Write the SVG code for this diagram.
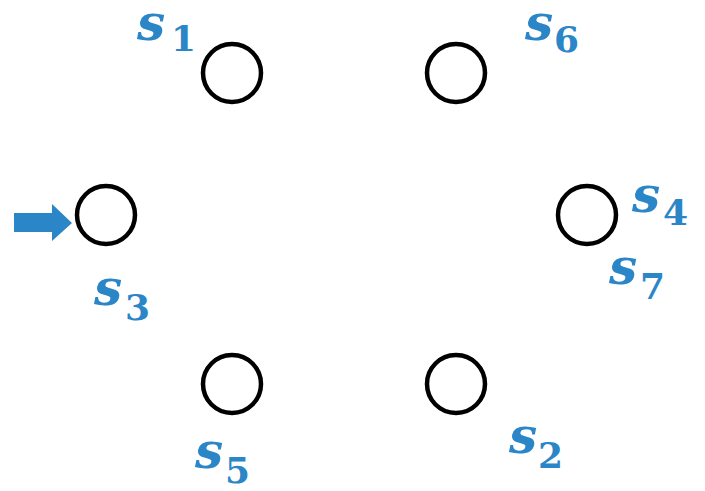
<svg xmlns="http://www.w3.org/2000/svg" width="705" height="491" viewBox="0 0 705 491">
<style>
.st{fill:#fff;stroke:#000;stroke-width:4.5}
.lb{fill:#2B86C8;font-family:"DejaVu Serif",serif;font-weight:bold}
.s{font-style:italic;font-size:50px}
.d{font-size:36px}
.arr{fill:#2B86C8}
</style>
<rect width="705" height="491" fill="#fff"/>
<g id="connectors">
<polygon class="arr" points="14,213 52,213 52,204 72,223 52,241 52,232 14,232"/>
</g>
<g id="s1"><circle class="st" cx="232" cy="73" r="29"/><text class="lb"><tspan class="s" x="137" y="40">s</tspan><tspan class="d" x="171" y="51">1</tspan></text></g>
<g id="s6"><circle class="st" cx="456" cy="73" r="29"/><text class="lb"><tspan class="s" x="525" y="40">s</tspan><tspan class="d" x="554" y="52">6</tspan></text></g>
<g id="s3"><circle class="st" cx="106" cy="215" r="29"/><text class="lb"><tspan class="s" x="94" y="305">s</tspan><tspan class="d" x="125" y="320">3</tspan></text></g>
<g id="s4s7"><circle class="st" cx="587" cy="215" r="29"/><text class="lb"><tspan class="s" x="632" y="212">s</tspan><tspan class="d" x="663" y="225">4</tspan></text><text class="lb"><tspan class="s" x="609" y="284">s</tspan><tspan class="d" x="640" y="299">7</tspan></text></g>
<g id="s5"><circle class="st" cx="232" cy="384" r="29"/><text class="lb"><tspan class="s" x="195" y="468">s</tspan><tspan class="d" x="225" y="483">5</tspan></text></g>
<g id="s2"><circle class="st" cx="456" cy="384" r="29"/><text class="lb"><tspan class="s" x="509" y="453">s</tspan><tspan class="d" x="538" y="468">2</tspan></text></g>
</svg>
